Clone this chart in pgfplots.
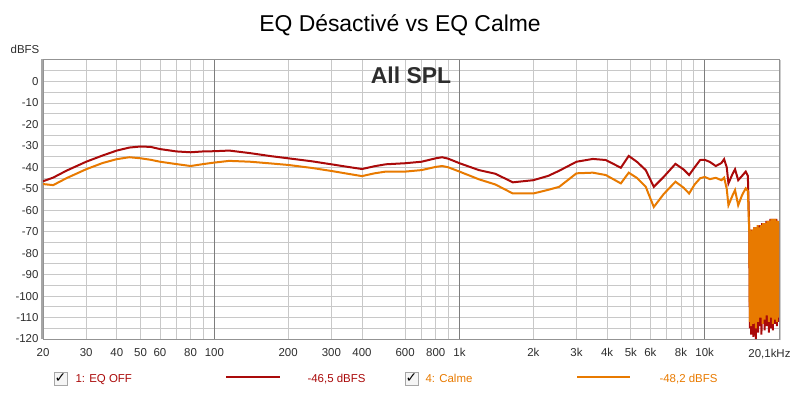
\documentclass[border=0pt]{standalone}
\usepackage{pgfplots}
\pgfplotsset{compat=1.18}
\usepackage{fontspec}
\setmainfont{Liberation Sans}
\newfontfamily\dejavu{DejaVu Sans}
\definecolor{cred}{RGB}{170,10,10}
\definecolor{corange}{RGB}{232,122,0}
\definecolor{gridc}{RGB}{200,200,200}
\definecolor{gridmaj}{RGB}{125,125,125}
\definecolor{txt}{RGB}{45,45,45}
\begin{document}
\begin{tikzpicture}[x=1bp,y=1bp]
\path[use as bounding box] (0,0) rectangle (800,392);
\begin{axis}[
  at={(43bp,53bp)}, anchor=south west,
  scale only axis, width=736bp, height=279bp,
  xmode=log, xmin=20, xmax=20100, ymin=-120, ymax=10,
  xtick={20,30,40,50,60,80,200,300,400,600,800,2000,3000,4000,5000,6000,8000},
  xticklabels={20,30,40,50,60,80,200,300,400,600,800,2k,3k,4k,5k,6k,8k},
  extra x ticks={100,1000,10000},
  extra x tick labels={100,1k,10k},
  extra x tick style={major grid style={gridmaj, line width=0.8bp}},
  minor xtick={70,90,700,900,7000,9000},
  ytick={-120,-110,...,0},
  minor ytick={-115,-105,...,5},
  grid=both,
  major grid style={gridc, line width=0.8bp},
  minor grid style={gridc, line width=0.8bp},
  axis line style={draw=gray!85, line width=1bp},
  major tick length=0pt, minor tick length=0pt,
  ticklabel style={font=\fontsize{11.5}{13}\selectfont, text=txt},
  xticklabel style={yshift=-6bp},
  yticklabel style={xshift=-1bp},
  /pgf/number format/assume math mode=true,
  clip=true,
]
\addplot[cred, line width=2bp] coordinates {
(20,-46.5) (22,-44.8) (25,-41.5) (30,-37.4) (35,-34.5) (40,-32.2) (45,-30.8) (50,-30.3) (55,-30.5) (60,-31.5)
(70,-32.6) (80,-33.0) (90,-32.6) (100,-32.5) (115,-32.2) (140,-33.4) (170,-34.8) (200,-35.8) (250,-37.2)
(300,-38.6) (350,-39.8) (400,-40.8) (450,-39.5) (500,-38.6) (600,-38.1) (700,-37.4) (800,-35.8) (850,-35.3)
(900,-36.0) (1000,-38.1) (1200,-41.3) (1400,-43.0) (1650,-47.0) (2000,-46.0) (2300,-44.0) (2550,-41.6)
(3000,-37.4) (3500,-36.1) (3950,-36.6) (4550,-40.2) (4900,-34.7) (5300,-37.5) (5750,-41.3) (6200,-49.1)
(6800,-44.5) (7600,-38.4) (8200,-41.0) (8640,-43.6) (9100,-40.0) (9580,-36.6) (10000,-36.5) (10500,-37.5)
(11100,-39.4) (11700,-38.0) (12000,-36.2) (12300,-40.0) (12500,-47.5) (13000,-43.0) (13300,-40.9)
(13700,-46.0) (14200,-44.0) (14700,-42.0) (15000,-44.0)
(15200,-70) (15288,-115) (15376,-70) (15464,-118) (15552,-69) (15640,-113) (15728,-70) (15816,-119)
(15904,-68) (15992,-116) (16080,-69) (16168,-120) (16256,-68) (16344,-112) (16432,-68) (16520,-117)
(16608,-67) (16696,-110) (16784,-68) (16872,-114) (16960,-67) (17048,-118) (17136,-66) (17224,-113)
(17312,-67) (17400,-110) (17488,-66) (17576,-116) (17664,-66) (17752,-108) (17840,-65) (17928,-114)
(18016,-66) (18104,-111) (18192,-65) (18280,-117) (18368,-65) (18456,-108) (18544,-64) (18632,-115)
(18720,-65) (18808,-110) (18896,-64) (18984,-116) (19072,-65) (19160,-108) (19248,-64) (19336,-113)
(19424,-65) (19512,-109) (19600,-64) (19688,-114) (19776,-65) (19864,-110) (19952,-66) (20040,-112) (20100,-66)
};
\addplot[corange, line width=2bp] coordinates {
(20,-47.8) (22,-48.3) (25,-45.0) (30,-40.9) (35,-38.0) (40,-36.2) (45,-35.3) (50,-35.8) (55,-36.5) (60,-37.4)
(70,-38.5) (80,-39.4) (90,-38.5) (100,-37.8) (115,-37.0) (140,-37.4) (170,-38.2) (200,-38.9) (250,-40.3)
(300,-41.7) (350,-43.0) (400,-44.1) (450,-42.8) (500,-42.0) (600,-42.0) (700,-41.3) (800,-39.8) (850,-39.4)
(900,-40.0) (1000,-42.0) (1200,-45.6) (1400,-48.0) (1650,-52.2) (2000,-52.2) (2300,-50.5) (2550,-49.1)
(3000,-42.8) (3500,-42.5) (3950,-43.6) (4550,-47.5) (4900,-42.5) (5300,-45.0) (5750,-49.1) (6200,-58.5)
(6800,-52.5) (7600,-46.7) (8200,-49.5) (8640,-52.2) (9100,-48.0) (9580,-45.1) (10000,-44.5) (10500,-45.5)
(11100,-44.9) (11700,-46.0) (12000,-44.8) (12300,-50.0) (12500,-57.7) (13000,-53.0) (13300,-50.6)
(13700,-57.7) (14200,-53.0) (14700,-49.8) (15000,-51.0)
(15200,-70) (15288,-112) (15376,-69) (15464,-114) (15552,-70) (15640,-108) (15728,-69) (15816,-113)
(15904,-68) (15992,-110) (16080,-69) (16168,-115) (16256,-68) (16344,-106) (16432,-67) (16520,-112)
(16608,-68) (16696,-104) (16784,-68) (16872,-110) (16960,-67) (17048,-107) (17136,-67) (17224,-113)
(17312,-66) (17400,-105) (17488,-67) (17576,-111) (17664,-66) (17752,-103) (17840,-66) (17928,-109)
(18016,-65) (18104,-106) (18192,-66) (18280,-112) (18368,-65) (18456,-104) (18544,-65) (18632,-110)
(18720,-64) (18808,-107) (18896,-65) (18984,-113) (19072,-64) (19160,-105) (19248,-65) (19336,-111)
(19424,-64) (19512,-106) (19600,-65) (19688,-112) (19776,-66) (19864,-108) (19952,-65) (20040,-110) (20100,-66)
};
\end{axis}
% frame shadow
\draw[gray!70, line width=2bp] (42,53) -- (42,333);
\draw[gray!40, line width=1.5bp] (780.5,52) -- (780.5,332);
% texts
\node[anchor=base, font=\fontsize{23}{25}\selectfont, text=black] at (400,361) {EQ Désactivé vs EQ Calme};
\node[anchor=base, font=\bfseries\fontsize{23}{25}\selectfont, text=txt] at (411,309) {All SPL};
\node[anchor=base, font=\fontsize{11.5}{13}\selectfont, text=txt] at (25,339) {dBFS};
\node[anchor=base east, font=\fontsize{11.5}{13}\selectfont, text=txt] at (794,35) {20,1kHz};
% legend
\draw[gray!70, fill=gray!8] (54,7) rectangle (67,20);
\node[font=\dejavu\bfseries\fontsize{14}{15}\selectfont] at (60.5,13.5) {✓};
\node[anchor=base west, font=\fontsize{11.5}{13}\selectfont, text=cred] at (72,10) {1: EQ OFF};
\draw[cred, line width=2bp] (226,15) -- (280,15);
\node[anchor=base west, font=\fontsize{11.5}{13}\selectfont, text=cred] at (304,10) {-46,5 dBFS};
\draw[gray!70, fill=gray!8] (405,7) rectangle (418,20);
\node[font=\dejavu\bfseries\fontsize{14}{15}\selectfont] at (411.5,13.5) {✓};
\node[anchor=base west, font=\fontsize{11.5}{13}\selectfont, text=corange] at (422,10) {4: Calme};
\draw[corange, line width=2bp] (577,15) -- (630,15);
\node[anchor=base west, font=\fontsize{11.5}{13}\selectfont, text=corange] at (656,10) {-48,2 dBFS};
\end{tikzpicture}
\end{document}
